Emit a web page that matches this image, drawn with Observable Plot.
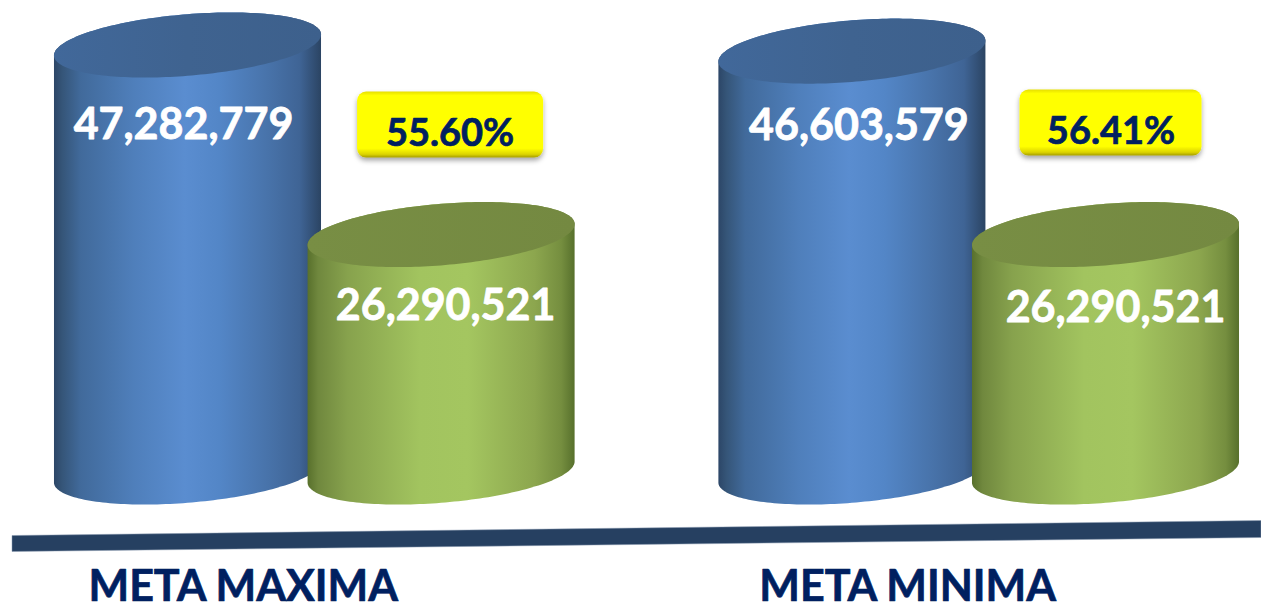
<!DOCTYPE html>
<html>
<head>
<meta charset="utf-8">
<style>
  html, body { margin: 0; padding: 0; background: #fff; overflow: hidden; }
  svg { display: block; }
</style>
<script src="https://cdn.jsdelivr.net/npm/d3@7"></script>
<script src="https://cdn.jsdelivr.net/npm/@observablehq/plot@0.6"></script>
</head>
<body>
<script>
// ---- data ----
const groups = ["META MAXIMA", "META MINIMA"];
const seriesNames = ["Meta", "Avance"];
const metaValues = [47282779, 46603579];
const progressValues = [26290521, 26290521];
const percentages = ["55.60%", "56.41%"];

// ---- layout and style (not data) ----
const groupStart = [0, 2.62];
const cylinderWidth = 1.053;         // in slots
const skew = 10.5, minorAxis = 30.8; // px
const ns = "http://www.w3.org/2000/svg";
const FONT = "Lato";
const NAVY = "#002060";
const labelNudge = [[-4.5, 80], [4, 71], [6.5, 75], [9.5, 73]];
const badgeBox = [
  {dx: 9, dy: -110, w: 186, h: 66, tdy: -101},
  {dx: 5, dy: -112, w: 182, h: 66, tdy: -103}
];
const stops = {
  Meta: [[0,"#2c4667"],[.03,"#355578"],[.1,"#416a9b"],[.3,"#4f7fbb"],[.49,"#5a8dd0"],[.62,"#5386c7"],[.8,"#4873aa"],[.92,"#3f6495"],[1,"#2b4463"]],
  Avance: [[0,"#58702c"],[.04,"#70883e"],[.15,"#87a24d"],[.42,"#a2c45f"],[.6,"#a4c660"],[.85,"#8ca64e"],[.95,"#758e3f"],[1,"#57702c"]]
};
const capFill = {Meta: "url(#cap-Meta)", Avance: "url(#cap-Avance)"};

const rows = groups.flatMap((g, i) => [
  {group: g, series: seriesNames[0], slot: groupStart[i], value: metaValues[i]},
  {group: g, series: seriesNames[1], slot: groupStart[i] + 1, value: progressValues[i]}
]);

function el(name, attrs, parent) {
  const n = document.createElementNS(ns, name);
  for (const k in attrs) n.setAttribute(k, attrs[k]);
  if (parent) parent.appendChild(n);
  return n;
}

function linear(defs, id, pairs, vertical) {
  const g = el("linearGradient", {id, x1: 0, y1: 0, x2: vertical ? 0 : 1, y2: vertical ? 1 : 0}, defs);
  pairs.forEach(([o, c]) => el("stop", {offset: o, "stop-color": c}, g));
}

function defsMark() {
  const defs = el("defs", {});
  for (const s of seriesNames) linear(defs, "body-" + s, stops[s]);
  linear(defs, "cap-Meta", [[0, "#41689a"], [.5, "#3f6390"], [1, "#3d608c"]]);
  linear(defs, "cap-Avance", [[0, "#788e44"], [1, "#748941"]]);
  linear(defs, "badge", [[0, "#e6de00"], [.06, "#ffff00"], [.86, "#ffff00"], [.95, "#dcd400"], [1, "#a39b00"]], true);
  const f = el("filter", {id: "badge-shadow", x: "-10%", y: "-15%", width: "120%", height: "140%"}, defs);
  el("feDropShadow", {dx: 0, dy: 3, stdDeviation: 2.5, "flood-color": "#000", "flood-opacity": 0.35}, f);
  return defs;
}

// Turns each rect into a skewed cylinder, from the positions Plot computed.
function cylinderRender(index, scales, values) {
  const g = el("g", {});
  for (const i of index) {
    const xl = values.x1[i], xr = values.x2[i], top = values.y2[i], base = values.y1[i];
    const cx = (xl + xr) / 2, A = (xr - xl) / 2;
    const pt = (t, cy) => [cx + A * Math.cos(t), cy - skew * Math.cos(t) + minorAxis * Math.sin(t)];
    const lower = d3.range(0, 97).map(k => pt(Math.PI * k / 96, base));
    const upper = d3.range(0, 97).map(k => pt(Math.PI + Math.PI * k / 96, top));
    const cap = d3.range(0, 193).map(k => pt(2 * Math.PI * k / 192, top));
    const s = rows[i].series;
    el("path", {d: "M" + lower.concat(upper).join("L") + "Z", fill: `url(#body-${s})`}, g);
    el("path", {d: "M" + cap.join("L") + "Z", fill: capFill[s]}, g);
  }
  return g;
}

function baselineMark() {
  return el("path", {d: "M12,535.5L1261,520.5L1261,537.5L12,551.5Z", fill: "#264061", stroke: "#8b9bb0", "stroke-width": 0.5});
}

function badgeMark(i) {
  return (index, {x, y}) => {
    const b = badgeBox[i];
    const cx = x(groupStart[i] + 1) + b.dx, cy = y(progressValues[i]) + b.dy;
    return el("rect", {x: cx - b.w / 2, y: cy - b.h / 2, width: b.w, height: b.h, rx: 9, ry: 9, fill: "url(#badge)", filter: "url(#badge-shadow)"});
  };
}

const valueLabels = rows.map((r, i) => Plot.text([r], {
  x: "slot", y: "value", text: d => d3.format(",")(d.value),
  dx: labelNudge[i][0], dy: labelNudge[i][1],
  fill: "#fff", stroke: "#fff", strokeWidth: 0.8,
  fontFamily: FONT, fontWeight: 700, fontSize: 43, lineAnchor: "middle"
}));

const percentLabels = percentages.map((p, i) => Plot.text([p], {
  x: () => groupStart[i] + 1, y: () => progressValues[i], text: d => d,
  dx: badgeBox[i].dx - (i ? 0 : 0.5), dy: badgeBox[i].tdy,
  fill: NAVY, stroke: NAVY, strokeWidth: 0.7,
  fontFamily: FONT, fontWeight: 700, fontSize: 38, lineAnchor: "middle"
}));

const groupLabels = Plot.text(groups, {
  x: (d, i) => groupStart[i] + 0.5, y: () => 0, text: d => d,
  dx: -71.5, dy: 115,
  fill: NAVY, stroke: NAVY, strokeWidth: 0.7,
  fontFamily: FONT, fontWeight: 700, fontSize: 43, lineAnchor: "middle"
});

const chart = Plot.plot({
  width: 1261, height: 605,
  marginTop: 0, marginRight: 0, marginBottom: 0, marginLeft: 0,
  style: {background: "#fff", fontFamily: FONT},
  x: {type: "linear", domain: [0, 3.62], range: [187.5, 1105.5], axis: null},
  y: {type: "linear", domain: [0, 47282779], range: [472, 45], axis: null},
  marks: [
    defsMark,
    Plot.rect(rows, {
      x1: d => d.slot - cylinderWidth / 2,
      x2: d => d.slot + cylinderWidth / 2,
      y1: () => 0, y2: "value",
      render: cylinderRender
    }),
    baselineMark,
    badgeMark(0), badgeMark(1),
    ...valueLabels,
    ...percentLabels,
    groupLabels
  ]
});
document.body.appendChild(chart);
</script>
</body>
</html>
